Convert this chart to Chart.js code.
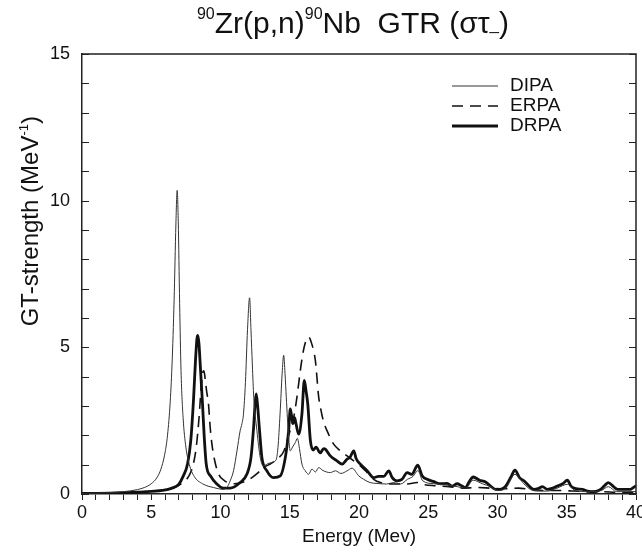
<!DOCTYPE html>
<html>
<head>
<meta charset="utf-8">
<script src="https://cdn.jsdelivr.net/npm/chart.js@4/dist/chart.umd.min.js"></script>
<style>
  html, body { margin: 0; padding: 0; background: #fff; }
  #wrap { width: 642px; height: 552px; }
</style>
</head>
<body>
<div id="wrap"><canvas id="c" width="642" height="552"></canvas></div>
<script>
// ---------- data ----------
const seriesNames = ["DIPA", "ERPA", "DRPA"];
const xTickLabels = [0, 5, 10, 15, 20, 25, 30, 35, 40];
const yTickLabels = [0, 5, 10, 15];

// [energy (MeV), GT strength (MeV^-1)]
const dipaPoints = [
  [0,0.02],[1,0.03],[2,0.05],[3,0.08],[4,0.15],[4.5,0.22],[5,0.35],[5.4,0.55],[5.7,0.85],[5.95,1.3],
  [6.15,1.9],[6.35,3.0],[6.5,4.4],[6.65,6.6],[6.78,9.2],[6.87,10.35],[6.95,9.3],[7.05,6.5],[7.15,4.2],[7.3,2.6],
  [7.5,1.6],[7.75,1.0],[8.1,0.6],[8.7,0.35],[9.5,0.22],[10.2,0.16],[10.5,0.25],[10.7,0.45],[10.94,0.79],[11.19,1.47],
  [11.42,2.16],[11.55,2.4],[11.66,2.73],[11.8,3.8],[11.95,5.6],[12.1,6.69],[12.2,5.6],[12.3,4.4],[12.4,3.3],[12.63,2.16],
  [12.87,1.24],[13.1,0.96],[13.5,1.05],[14.0,1.15],[14.15,1.59],[14.3,2.73],[14.45,4.1],[14.56,4.73],[14.66,4.1],[14.75,3.3],
  [14.92,1.93],[15.04,1.47],[15.2,1.6],[15.4,1.75],[15.55,1.9],[15.7,1.55],[15.88,1.02],[16.12,0.79],[16.36,0.67],[16.6,0.85],
  [16.85,0.75],[17.09,0.9],[17.4,0.8],[17.93,0.73],[18.3,0.79],[18.7,0.7],[19.14,0.79],[19.5,0.88],[19.98,0.62],[20.34,0.5],
  [20.8,0.39],[21.3,0.36],[22.0,0.34],[22.5,0.39],[23.0,0.34],[23.5,0.5],[23.9,0.6],[24.25,0.8],[24.6,0.45],[25.4,0.35],
  [26.4,0.3],[27.1,0.25],[27.7,0.2],[28.25,0.47],[28.9,0.35],[29.5,0.25],[30.0,0.12],[30.6,0.2],[31.26,0.67],[31.9,0.35],
  [32.4,0.15],[33.0,0.1],[33.6,0.1],[34.3,0.2],[35.05,0.33],[35.6,0.12],[36.5,0.08],[37.5,0.12],[38.0,0.25],[38.6,0.08],
  [39.3,0.08],[40,0.08]
];
const erpaPoints = [
  [0,0.02],[2,0.03],[4,0.05],[5,0.08],[6,0.14],[6.8,0.25],[7.3,0.4],[7.7,0.6],[8.0,0.95],[8.25,1.6],
  [8.45,2.6],[8.6,3.6],[8.72,4.15],[8.8,4.2],[8.9,3.9],[9.0,3.5],[9.13,3.08],[9.25,2.3],[9.38,1.7],[9.6,1.1],
  [9.86,0.68],[10.3,0.45],[11.0,0.35],[11.6,0.4],[12.27,0.56],[12.7,0.72],[13.1,0.9],[13.5,1.0],[14.08,1.19],[14.56,1.45],
  [14.92,2.0],[15.28,2.6],[15.52,3.3],[15.76,4.2],[15.95,4.8],[16.15,5.2],[16.36,5.35],[16.6,5.1],[16.85,4.55],[17.09,3.3],
  [17.21,2.96],[17.45,2.45],[17.69,2.16],[18.17,1.7],[18.66,1.47],[19.14,1.3],[19.62,1.13],[20.1,0.96],[20.59,0.73],[21.06,0.5],
  [21.55,0.39],[22.5,0.34],[23.5,0.34],[24.2,0.39],[24.6,0.33],[25.5,0.28],[26.5,0.25],[27.5,0.2],[28.5,0.22],[29.5,0.2],
  [30.5,0.18],[31.5,0.2],[32.5,0.15],[33.5,0.12],[34.5,0.12],[35.5,0.1],[36.5,0.08],[37.5,0.08],[38.5,0.06],[39.5,0.05],
  [40,0.05]
];
const drpaPoints = [
  [0,0.02],[2,0.03],[4,0.06],[5,0.09],[5.8,0.12],[6.5,0.2],[7.0,0.34],[7.3,0.6],[7.62,1.02],[7.85,1.8],
  [8.05,3.2],[8.2,4.6],[8.3,5.3],[8.37,5.41],[8.45,5.1],[8.55,4.3],[8.7,3.08],[8.82,2.0],[8.97,1.02],[9.3,0.6],
  [9.74,0.34],[10.2,0.2],[10.7,0.2],[11.42,0.39],[11.9,0.67],[12.2,1.24],[12.39,2.27],[12.5,3.1],[12.58,3.41],[12.68,3.0],
  [12.82,2.16],[12.99,1.24],[13.35,0.79],[13.83,0.56],[14.32,0.62],[14.68,1.24],[14.92,2.16],[15.04,2.9],[15.12,2.7],[15.23,2.4],
  [15.35,2.6],[15.45,2.4],[15.64,2.04],[15.88,2.73],[16.05,3.87],[16.18,3.5],[16.3,3.07],[16.49,1.82],[16.7,1.5],[16.9,1.6],
  [17.2,1.4],[17.45,1.55],[17.57,1.53],[17.93,1.3],[18.41,1.13],[18.78,1.02],[19.14,1.19],[19.35,1.25],[19.62,1.47],[19.8,1.2],
  [20.1,1.02],[20.59,0.79],[21.06,0.56],[21.4,0.6],[21.79,0.6],[22.15,0.79],[22.4,0.56],[22.75,0.45],[23.1,0.5],[23.48,0.73],
  [23.8,0.67],[24.25,0.98],[24.56,0.62],[24.92,0.5],[25.4,0.42],[25.89,0.35],[26.37,0.36],[26.73,0.27],[27.09,0.35],[27.4,0.28],
  [27.69,0.22],[27.93,0.4],[28.25,0.58],[28.7,0.47],[29.14,0.41],[29.5,0.27],[29.86,0.16],[30.2,0.16],[30.59,0.27],[30.95,0.56],
  [31.26,0.81],[31.6,0.55],[31.91,0.45],[32.4,0.22],[32.63,0.16],[33.0,0.2],[33.24,0.25],[33.6,0.16],[34.0,0.2],[34.32,0.27],
  [34.7,0.35],[35.05,0.47],[35.3,0.27],[35.66,0.18],[36.13,0.16],[36.49,0.1],[36.97,0.08],[37.45,0.16],[37.82,0.33],[37.99,0.39],
  [38.4,0.24],[38.66,0.16],[39.2,0.16],[39.62,0.16],[39.8,0.22],[40,0.28]
];

// ---------- styling ----------
const FONT = "'Liberation Sans', Arial, Helvetica, sans-serif";
const INK = "#111";
const toXY = pts => pts.map(p => ({ x: p[0], y: p[1] }));

const titlePlugin = {
  id: 'richTitle',
  afterDraw(chart) {
    const ctx = chart.ctx;
    ctx.save();
    ctx.fillStyle = INK;
    ctx.textBaseline = 'alphabetic';
    const big = "30px " + FONT, small = "16px " + FONT, sub = "17px " + FONT;
    const parts = [
      { t: "90", f: small, dy: -14 },
      { t: "Zr(p,n)", f: big, dy: 0 },
      { t: "90", f: small, dy: -14 },
      { t: "Nb  GTR (στ", f: big, dy: 0 },
      { t: "_", f: sub, dy: -3 },
      { t: ")", f: big, dy: 0 }
    ];
    let w = 0;
    parts.forEach(p => { ctx.font = p.f; p.w = ctx.measureText(p.t).width; w += p.w; });
    const ca = chart.chartArea;
    let x = (ca.left + ca.right) / 2 - w / 2 - 6;
    const base = 33;
    parts.forEach(p => { ctx.font = p.f; ctx.fillText(p.t, x, base + p.dy); x += p.w; });
    ctx.restore();
  }
};

const yTitlePlugin = {
  id: 'yTitle',
  afterDraw(chart) {
    const ctx = chart.ctx;
    const ys = chart.scales.y;
    ctx.save();
    ctx.fillStyle = INK;
    const big = "24px " + FONT, small = "13px " + FONT;
    const parts = [
      { t: "GT-strength (MeV", f: big, dy: 0 },
      { t: "-1", f: small, dy: -10 },
      { t: ")", f: big, dy: 0 }
    ];
    let w = 0;
    parts.forEach(p => { ctx.font = p.f; p.w = ctx.measureText(p.t).width; w += p.w; });
    const cy = ys.getPixelForValue(9.3);
    ctx.translate(38, cy);
    ctx.rotate(-Math.PI / 2);
    let x = -w / 2;
    parts.forEach(p => { ctx.font = p.f; ctx.fillText(p.t, x, p.dy); x += p.w; });
    ctx.restore();
  }
};

const framePlugin = {
  id: 'frame',
  afterDatasetsDraw(chart) {
    const ctx = chart.ctx, ca = chart.chartArea, ys = chart.scales.y;
    ctx.save();
    ctx.strokeStyle = "#222";
    ctx.lineWidth = 1.5;
    ctx.beginPath();
    ctx.moveTo(ca.left, ca.top); ctx.lineTo(ca.right, ca.top); ctx.lineTo(ca.right, ca.bottom);
    ctx.stroke();
    ctx.lineWidth = 1;
    ctx.beginPath();
    ys.ticks.forEach(t => {
      const py = Math.round(ys.getPixelForValue(t.value)) + 0.5;
      ctx.moveTo(ca.left, py); ctx.lineTo(ca.left + 7, py);
      ctx.moveTo(ca.right, py); ctx.lineTo(ca.right - 7, py);
    });
    ctx.stroke();
    ctx.restore();
  }
};

const legendPlugin = {
  id: 'cornerLegend',
  afterDraw(chart) {
    const ctx = chart.ctx, ca = chart.chartArea;
    ctx.save();
    ctx.font = "19px " + FONT;
    ctx.fillStyle = INK;
    ctx.textBaseline = 'middle';
    chart.data.datasets.forEach((ds, i) => {
      const y = ca.top + 32 + i * 20;
      ctx.strokeStyle = ds.borderColor;
      ctx.lineWidth = ds.borderWidth;
      ctx.setLineDash(ds.borderDash || []);
      ctx.beginPath();
      ctx.moveTo(ca.right - 184, y); ctx.lineTo(ca.right - 138, y);
      ctx.stroke();
      ctx.setLineDash([]);
      ctx.fillText(ds.label, ca.right - 126, y);
    });
    ctx.restore();
  }
};

new Chart(document.getElementById('c'), {
  type: 'line',
  data: {
    datasets: [
      { label: seriesNames[0], data: toXY(dipaPoints), borderColor: "#333", borderWidth: 1, pointRadius: 0, cubicInterpolationMode: 'monotone' },
      { label: seriesNames[1], data: toXY(erpaPoints), borderColor: INK, borderWidth: 1.6, borderDash: [11, 7], pointRadius: 0, cubicInterpolationMode: 'monotone' },
      { label: seriesNames[2], data: toXY(drpaPoints), borderColor: INK, borderWidth: 2.8, pointRadius: 0, cubicInterpolationMode: 'monotone' }
    ]
  },
  options: {
    responsive: false,
    animation: false,
    devicePixelRatio: 1,
    layout: { padding: { top: 54, right: 6, left: 0, bottom: 0 } },
    plugins: { legend: { display: false }, title: { display: false }, tooltip: { enabled: false } },
    scales: {
      x: {
        type: 'linear', min: 0, max: 40,
        afterFit: s => { s.height = 58; s.paddingLeft = 0; s.paddingRight = 0; },
        border: { display: true, color: "#222", width: 1.5 },
        grid: { drawOnChartArea: false, drawTicks: true, tickLength: 6, color: "#222", lineWidth: 1 },
        ticks: {
          stepSize: 1, autoSkip: false, maxRotation: 0, padding: 2, color: INK,
          font: { family: FONT, size: 18 },
          callback: v => xTickLabels.includes(v) ? String(v) : ''
        },
        title: { display: true, text: 'Energy (Mev)', color: INK, font: { family: FONT, size: 19 }, padding: { top: 0, bottom: 4 } }
      },
      y: {
        type: 'linear', min: 0, max: 15,
        afterFit: s => { s.width = 82; s.paddingTop = 0; s.paddingBottom = 0; },
        border: { display: true, color: "#222", width: 1.5 },
        grid: { drawOnChartArea: false, drawTicks: false },
        ticks: {
          stepSize: 1, autoSkip: false, padding: 12, color: INK,
          font: { family: FONT, size: 18 },
          callback: v => yTickLabels.includes(v) ? String(v) : ''
        }
      }
    }
  },
  plugins: [titlePlugin, yTitlePlugin, framePlugin, legendPlugin]
});
</script>
</body>
</html>
